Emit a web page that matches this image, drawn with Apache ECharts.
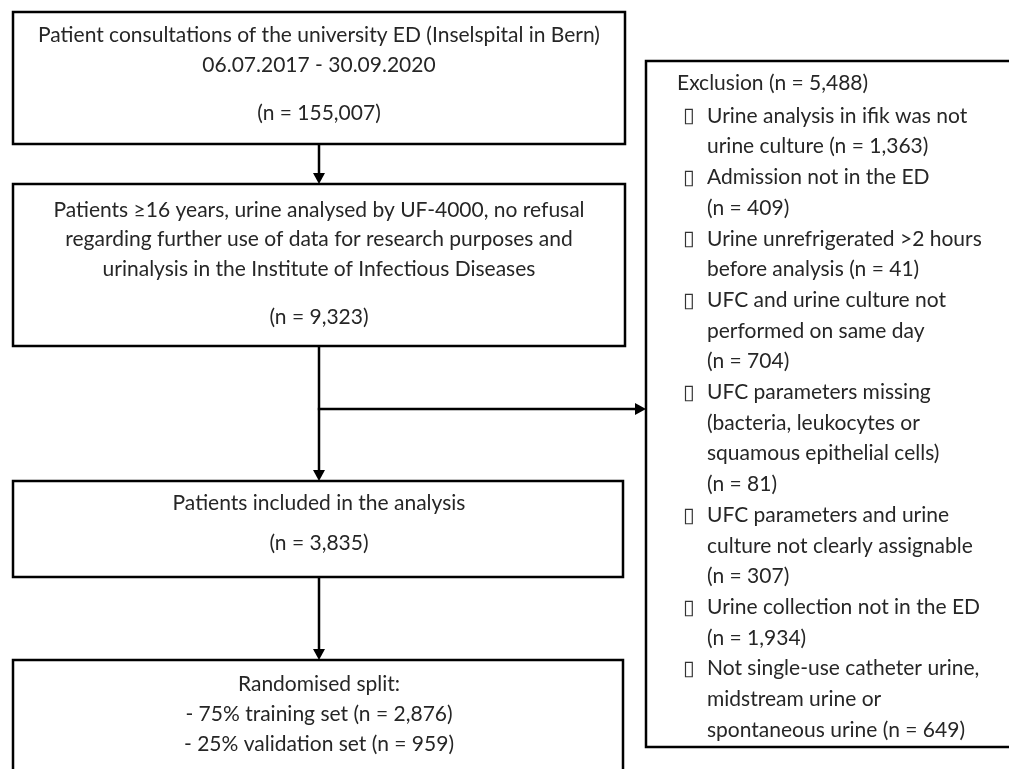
<!DOCTYPE html>
<html><head><meta charset="utf-8">
<script src="https://cdn.jsdelivr.net/npm/echarts@6/dist/echarts.min.js"></script>
<style>html,body{margin:0;padding:0;background:#fff}#c{width:1009px;height:769px}</style>
</head><body><div id="c"></div>
<script>
// ---------- DATA ----------
const studyPeriod = "06.07.2017 - 30.09.2020";
const stage1Lines = ["Patient consultations of the university ED (Inselspital in Bern)", studyPeriod];
const stage2Lines = ["Patients \u226516 years, urine analysed by UF-4000, no refusal",
                     "regarding further use of data for research purposes and",
                     "urinalysis in the Institute of Infectious Diseases"];
const stage3Lines = ["Patients included in the analysis"];
const stageCounts = [155007, 9323, 3835];
const splitTitle = "Randomised split:";
const splitLabels = ["75% training set", "25% validation set"];
const splitCounts = [2876, 959];
const exclusionTitle = "Exclusion";
const exclusionTotal = 5488;
// last line of each reason is the prefix placed before the count ("" = count on its own line)
const exclusionReasons = [
  ["Urine analysis in ifik was not", "urine culture"],
  ["Admission not in the ED", ""],
  ["Urine unrefrigerated >2 hours", "before analysis"],
  ["UFC and urine culture not", "performed on same day", ""],
  ["UFC parameters missing", "(bacteria, leukocytes or", "squamous epithelial cells)", ""],
  ["UFC parameters and urine", "culture not clearly assignable", ""],
  ["Urine collection not in the ED", ""],
  ["Not single-use catheter urine,", "midstream urine or", "spontaneous urine"]
];
const exclusionCounts = [1363, 409, 41, 704, 81, 307, 1934, 649];

// ---------- LAYOUT / STYLE ----------
const W = 1009, H = 769;
const FONT = '21px Lato';
const TEXT_COLOR = '#262626';
const LINE_W = 2.5;
const L = {
  cx: 319,
  boxes: [[13, 12, 625, 144], [13, 184, 625, 346], [13, 481, 623, 577], [13, 660, 623, 800]],
  lineY: [[35, 65, 113], [210, 239, 269, 317], [503, 543], [684, 714, 744]],
  excl: [646, 61, 1015, 747],
  exclTitleX: 677, exclTitleY: 83,
  bulletX: 685, reasonX: 707, reasonY0: 116, reasonStep: 30.7,
  branchY: 409
};

const fmt = n => n.toLocaleString('en-US');
const nText = n => '(n = ' + fmt(n) + ')';

// ---------- BUILD ELEMENTS ----------
const els = [];
L.boxes.forEach(b => els.push({ k: 'rect', b }));
els.push({ k: 'rect', b: L.excl });
els.push({ k: 'down', x: L.cx, y0: L.boxes[0][3], y1: L.boxes[1][1] });
els.push({ k: 'down', x: L.cx, y0: L.boxes[1][3], y1: L.boxes[2][1] });
els.push({ k: 'right', y: L.branchY, x0: L.cx, x1: L.excl[0] });
els.push({ k: 'down', x: L.cx, y0: L.boxes[2][3], y1: L.boxes[3][1] });

const stageTexts = [
  [...stage1Lines, nText(stageCounts[0])],
  [...stage2Lines, nText(stageCounts[1])],
  [...stage3Lines, nText(stageCounts[2])],
  [splitTitle, ...splitLabels.map((s, i) => '- ' + s + ' ' + nText(splitCounts[i]))]
];
stageTexts.forEach((lines, bi) => lines.forEach((t, li) =>
  els.push({ k: 'text', x: L.cx, y: L.lineY[bi][li], t, align: 'center' })));

els.push({ k: 'text', x: L.exclTitleX, y: L.exclTitleY, t: exclusionTitle + ' ' + nText(exclusionTotal), align: 'left' });
let row = 0;
exclusionReasons.forEach((lines, ri) => {
  lines.forEach((t, li) => {
    const y = L.reasonY0 + row * L.reasonStep;
    if (li === 0) els.push({ k: 'bullet', x: L.bulletX, y });
    let txt = t;
    if (li === lines.length - 1) txt = (t ? t + ' ' : '') + nText(exclusionCounts[ri]);
    els.push({ k: 'text', x: L.reasonX, y, t: txt, align: 'left' });
    row++;
  });
});

// ---------- CHART ----------
const chart = echarts.init(document.getElementById('c'), null, { renderer: 'canvas' });
function renderItem(params, api) {
  const e = els[params.dataIndex];
  const P = (x, y) => api.coord([x, y]);
  const stroke = { stroke: '#000', lineWidth: LINE_W, fill: null };
  if (e.k === 'rect') {
    const a = P(e.b[0], e.b[1]), c = P(e.b[2], e.b[3]);
    return { type: 'rect', shape: { x: a[0], y: a[1], width: c[0] - a[0], height: c[1] - a[1] }, style: stroke };
  }
  if (e.k === 'down') {
    const a = P(e.x, e.y0), c = P(e.x, e.y1);
    return { type: 'group', children: [
      { type: 'line', shape: { x1: a[0], y1: a[1], x2: c[0], y2: c[1] - 8 }, style: stroke },
      { type: 'polygon', shape: { points: [[c[0] - 6, c[1] - 11], [c[0] + 6, c[1] - 11], [c[0], c[1]]] }, style: { fill: '#000' } }
    ] };
  }
  if (e.k === 'right') {
    const a = P(e.x0, e.y), c = P(e.x1, e.y);
    return { type: 'group', children: [
      { type: 'line', shape: { x1: a[0] - 1.2, y1: a[1], x2: c[0] - 8, y2: c[1] }, style: stroke },
      { type: 'polygon', shape: { points: [[c[0] - 11, c[1] - 6], [c[0] - 11, c[1] + 6], [c[0], c[1]]] }, style: { fill: '#000' } }
    ] };
  }
  if (e.k === 'bullet') {
    const a = P(e.x, e.y);
    return { type: 'text', style: { text: '\u25AF', x: a[0] - 2, y: a[1] + 1, font: '21px "DejaVu Sans"', fill: '#333',
      textAlign: 'left', textVerticalAlign: 'middle', align: 'left', verticalAlign: 'middle' } };
  }
  const a = P(e.x, e.y);
  return { type: 'text', style: { text: e.t, x: a[0], y: a[1], font: FONT, fill: TEXT_COLOR,
    textAlign: e.align, textVerticalAlign: 'middle', align: e.align, verticalAlign: 'middle' } };
}

chart.setOption({
  animation: false,
  grid: { left: 0, right: 0, top: 0, bottom: 0 },
  xAxis: { type: 'value', min: 0, max: W, show: false },
  yAxis: { type: 'value', min: 0, max: H, inverse: true, show: false },
  series: [{
    type: 'custom', clip: false, silent: true,
    data: els.map((e, i) => [i, 0]),
    renderItem
  }]
});
</script></body></html>
